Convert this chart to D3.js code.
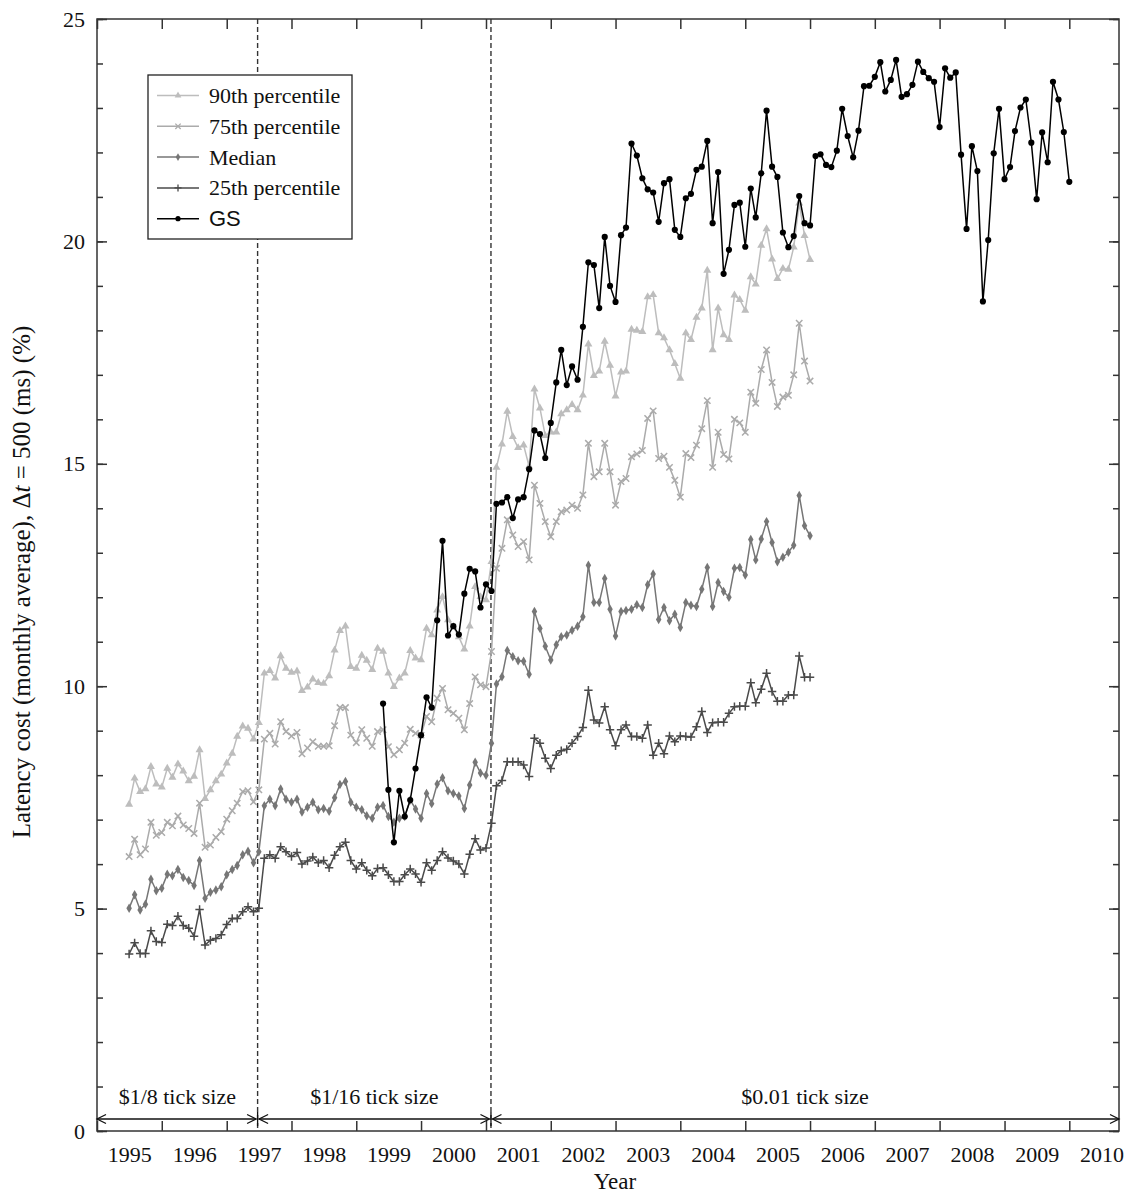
<!DOCTYPE html>
<html>
<head>
<meta charset="utf-8">
<script src="https://cdn.jsdelivr.net/npm/d3@7"></script>
<style>
  body { margin: 0; background: #fff; }
  svg { display: block; font-family: "Liberation Serif", "DejaVu Serif", serif; }
</style>
</head>
<body>
<svg></svg>
<script>
// monthly averages, Jul 1995 .. Jan 2006
var p90 = [7.34, 7.93, 7.63, 7.69, 8.19, 7.80, 7.73, 8.15, 7.95, 8.25, 8.09, 7.87, 7.97, 8.57, 7.47, 7.67,
  7.87, 8.02, 8.27, 8.49, 8.87, 9.10, 9.05, 8.81, 9.18, 10.29, 10.35, 10.18, 10.68, 10.40, 10.31, 10.34,
  9.90, 9.98, 10.16, 10.08, 10.06, 10.23, 10.81, 11.25, 11.35, 10.44, 10.40, 10.69, 10.58, 10.37, 10.85,
  10.78, 10.29, 9.99, 10.18, 10.29, 10.80, 10.63, 10.59, 11.30, 11.15, 11.71, 12.01, 11.49, 11.34, 11.11,
  10.83, 11.35, 12.24, 12.01, 11.94, 12.80,
  14.92, 15.44, 16.18, 15.61, 15.36, 15.42, 14.94, 16.68, 16.25, 15.63, 15.71, 15.71, 16.12, 16.21, 16.33,
  16.21, 16.54, 17.69, 16.98, 17.08, 17.75, 17.21, 16.52, 17.06, 17.08, 18.02, 18.00, 17.97, 18.75, 18.80,
  17.94, 17.83, 17.56, 17.25, 16.92, 17.94, 17.79, 18.29, 18.50,
  19.35, 17.56, 18.50, 17.90, 17.79, 18.79, 18.69, 18.45, 19.20, 19.04, 19.91, 20.28, 19.60, 19.16, 19.39,
  19.37, 19.87, 20.86, 20.13, 19.59];

var p75 = [6.17, 6.56, 6.21, 6.34, 6.94, 6.65, 6.71, 6.94, 6.86, 7.08, 6.88, 6.80, 6.69, 7.37, 6.38, 6.43,
  6.60, 6.73, 7.01, 7.20, 7.37, 7.63, 7.65, 7.40, 7.67, 8.81, 8.94, 8.70, 9.20, 8.98, 8.88, 8.96,
  8.48, 8.61, 8.75, 8.65, 8.65, 8.66, 9.11, 9.52, 9.52, 8.90, 8.73, 9.02, 8.83, 8.65, 8.98,
  9.02, 8.64, 8.46, 8.57, 8.72, 9.03, 8.94, 8.90, 9.32, 9.20, 9.73, 9.95, 9.47, 9.39, 9.28, 9.02, 9.61,
  10.21, 10.03, 9.99, 10.78, 12.65,
  13.10, 13.74, 13.40, 13.14, 13.25, 12.84, 14.52, 14.11, 13.70, 13.36, 13.70, 13.92, 13.96, 14.07, 14.00,
  14.30, 15.46, 14.71, 14.82, 15.46, 14.82, 14.07, 14.60, 14.67, 15.16, 15.22, 15.30, 16.02, 16.19, 15.12,
  15.17, 14.92, 14.63, 14.25, 15.23, 15.14, 15.42,
  15.79, 16.42, 14.92, 15.71, 15.21, 15.11, 16.00, 15.92, 15.71, 16.61, 16.36, 17.12, 17.56, 16.83, 16.29,
  16.50, 16.54, 17.00, 18.16, 17.31, 16.86];

var median = [5.01, 5.31, 4.97, 5.10, 5.66, 5.40, 5.46, 5.77, 5.74, 5.88, 5.70, 5.63, 5.52, 6.08, 5.23, 5.37,
  5.42, 5.49, 5.76, 5.88, 5.97, 6.21, 6.29, 6.03, 6.28, 7.31, 7.46, 7.31, 7.69, 7.46, 7.39, 7.46,
  7.17, 7.28, 7.39, 7.22, 7.25, 7.19, 7.49, 7.79, 7.86, 7.39, 7.28, 7.22, 7.09, 7.03, 7.28, 7.32, 7.07,
  6.94, 7.03, 7.07, 7.44, 7.24, 7.03, 7.59, 7.36, 7.80, 7.94, 7.65, 7.59, 7.53, 7.25, 7.78, 8.29, 8.05,
  8.00, 8.72,
  10.05, 10.21, 10.80, 10.66, 10.57, 10.56, 10.27, 11.68, 11.30, 10.90, 10.59, 10.93, 11.11, 11.15, 11.26,
  11.35, 11.56, 12.72, 11.88, 11.88, 12.42, 11.73, 11.13, 11.68, 11.70, 11.73, 11.83, 11.77, 12.28, 12.52,
  11.50, 11.77, 11.47, 11.62, 11.32, 11.88, 11.82, 11.79, 12.18, 12.67, 11.79, 12.33, 12.13, 12.00, 12.65,
  12.67, 12.50,
  13.30, 12.84, 13.31, 13.70, 13.23, 12.80, 12.90, 13.01, 13.17, 14.29, 13.61, 13.38];

var p25 = [3.98, 4.23, 3.99, 3.99, 4.50, 4.26, 4.24, 4.65, 4.62, 4.83, 4.62, 4.56, 4.38, 4.98, 4.18, 4.29,
  4.33, 4.41, 4.64, 4.78, 4.78, 4.93, 5.04, 4.93, 5.01, 6.13, 6.21, 6.13, 6.39, 6.28, 6.17, 6.26,
  6.00, 6.07, 6.16, 6.03, 6.08, 5.92, 6.20, 6.39, 6.49, 6.08, 5.89, 6.03, 5.86, 5.74, 5.90, 5.92, 5.76,
  5.61, 5.61, 5.76, 5.89, 5.78, 5.59, 6.03, 5.86, 6.08, 6.28, 6.14, 6.07, 6.00, 5.78, 6.22, 6.57, 6.32,
  6.36, 6.92,
  7.76, 7.88, 8.30, 8.30, 8.30, 8.23, 7.97, 8.83, 8.72, 8.38, 8.15, 8.45, 8.55, 8.58, 8.72, 8.87, 9.07,
  9.91, 9.24, 9.17, 9.54, 9.02, 8.66, 9.02, 9.13, 8.87, 8.87, 8.83, 9.13, 8.45, 8.72, 8.48, 8.88, 8.75,
  8.88, 8.87, 8.86, 9.09, 9.43, 8.96, 9.18, 9.19, 9.19, 9.39, 9.54, 9.55, 9.55, 10.08, 9.63, 9.93, 10.29,
  9.88, 9.66, 9.66, 9.80, 9.80, 10.68, 10.20, 10.20];

// GS, Jun 1999 .. Jan 2010
var gs = [9.61, 7.67, 6.49, 7.65, 7.07, 7.44, 8.15, 8.90, 9.75, 9.52, 11.48, 13.27, 11.14, 11.35, 11.16,
  12.08, 12.64, 12.58, 11.77, 12.29, 12.14,
  14.10, 14.13, 14.25, 13.78, 14.20, 14.25, 14.88, 15.75, 15.67, 15.13, 15.92, 16.83, 17.56, 16.77, 17.19,
  16.89, 18.08, 19.53, 19.47, 18.50, 20.10, 19.00, 18.64,
  20.14, 20.31, 22.20, 21.93, 21.42, 21.17, 21.10, 20.44, 21.31, 21.40, 20.26, 20.10, 20.97, 21.07, 21.61,
  21.68, 22.26, 20.41, 21.56, 19.27, 19.81, 20.82, 20.87, 19.88, 21.19, 20.54, 21.53, 22.94, 21.68, 21.45,
  20.20, 19.87, 20.12, 21.02, 20.41, 20.36, 21.92, 21.96, 21.72, 21.67, 22.04, 22.98, 22.37, 21.89, 22.49,
  23.49, 23.50, 23.70, 24.03, 23.37, 23.63, 24.08, 23.25, 23.31, 23.52, 24.04, 23.81, 23.67, 23.59, 22.57,
  23.89, 23.68, 23.80, 21.95, 20.28, 22.14, 21.58,
  18.65, 20.03, 21.98, 22.98, 21.40, 21.67, 22.48, 23.01, 23.19, 22.22, 20.95, 22.45, 21.78, 23.59, 23.19,
  22.46, 21.34];

var years = d3.range(1995, 2011);
var yMajor = [0, 5, 10, 15, 20, 25];
var regimeNames = ['$1/8 tick size', '$1/16 tick size', '$0.01 tick size'];
var regimeBreaks = [new Date(1997, 5, 24), new Date(2001, 0, 29)];

var width = 1125;
var height = 1196;
var plotLeft = 97, plotRight = 1119, plotTop = 19, plotBottom = 1131;
var fontSize = 22;

var pctMonths = d3.timeMonth.range(new Date(1995, 6, 1), new Date(2006, 1, 1));
var gsMonths = d3.timeMonth.range(new Date(1999, 5, 1), new Date(2010, 1, 1));

var xScale = d3.scaleTime()
  .domain([new Date(1995, 0, 1), new Date(2010, 9, 8)])
  .range([plotLeft, plotRight]);

var yScale = d3.scaleLinear()
  .domain([0, 25])
  .range([plotBottom, plotTop]);

var svg = d3.select('svg')
  .attr('width', width)
  .attr('height', height);

var axisColor = '#333';

// markers
function markerPath(kind, s) {
  if (kind === 'triangle') return d3.symbol(d3.symbolTriangle, 28 * s)();
  if (kind === 'diamond') return d3.symbol(d3.symbolDiamond, 26 * s)();
  if (kind === 'circle') return d3.symbol(d3.symbolCircle, 30 * s)();
  if (kind === 'x') { var a = 3.2 * Math.sqrt(s); return `M${-a},${-a}L${a},${a}M${-a},${a}L${a},${-a}`; }
  var b = 4.2 * Math.sqrt(s);
  return `M${-b},0L${b},0M0,${-b}L0,${b}`;
}

var series = [
  {name: '90th percentile', values: p90, months: pctMonths, color: '#bdbdbd', marker: 'triangle'},
  {name: '75th percentile', values: p75, months: pctMonths, color: '#ababab', marker: 'x'},
  {name: 'Median', values: median, months: pctMonths, color: '#767676', marker: 'diamond'},
  {name: '25th percentile', values: p25, months: pctMonths, color: '#4a4a4a', marker: 'plus'},
  {name: 'GS', values: gs, months: gsMonths, color: '#000', marker: 'circle'}
];

// dashed regime lines
svg.selectAll('.regime-line')
  .data(regimeBreaks)
  .enter()
  .append('line')
    .attr('class', 'regime-line')
    .attr('x1', d => xScale(d))
    .attr('x2', d => xScale(d))
    .attr('y1', plotTop)
    .attr('y2', plotBottom)
    .attr('stroke', '#333')
    .attr('stroke-width', 1.4)
    .attr('stroke-dasharray', '5,3');

// series
series.forEach(function(s) {
  var line = d3.line()
    .x((d, i) => xScale(s.months[i]))
    .y(d => yScale(d));
  var g = svg.append('g');
  g.append('path')
    .attr('d', line(s.values))
    .attr('fill', 'none')
    .attr('stroke', s.color)
    .attr('stroke-width', 1.5);
  var filled = s.marker === 'triangle' || s.marker === 'diamond' || s.marker === 'circle';
  g.selectAll('path.m')
    .data(s.values)
    .enter()
    .append('path')
      .attr('class', 'm')
      .attr('transform', (d, i) => `translate(${xScale(s.months[i])},${yScale(d)})`)
      .attr('d', markerPath(s.marker, 1))
      .attr('fill', filled ? s.color : 'none')
      .attr('stroke', filled ? 'none' : s.color)
      .attr('stroke-width', 1.5);
});

// frame
svg.append('rect')
  .attr('x', plotLeft)
  .attr('y', plotTop)
  .attr('width', plotRight - plotLeft)
  .attr('height', plotBottom - plotTop)
  .attr('fill', 'none')
  .attr('stroke', axisColor)
  .attr('stroke-width', 1.5);

// y axis, left and right, major + minor
var yLeft = d3.axisLeft(yScale).tickValues(yMajor).tickSizeInner(-10).tickSizeOuter(0).tickPadding(12);
var yLeftMinor = d3.axisLeft(yScale).tickValues(d3.range(0, 26)).tickSize(-6).tickFormat('');
var yRight = d3.axisRight(yScale).tickValues(yMajor).tickSize(-10).tickFormat('');
var yRightMinor = d3.axisRight(yScale).tickValues(d3.range(0, 26)).tickSize(-6).tickFormat('');

[[yLeftMinor, plotLeft], [yLeft, plotLeft], [yRightMinor, plotRight], [yRight, plotRight]].forEach(function(p) {
  var g = svg.append('g')
    .attr('transform', `translate(${p[1]},0)`)
    .call(p[0]);
  g.select('.domain').remove();
  g.selectAll('line').attr('stroke', axisColor).attr('stroke-width', 1.5);
  g.selectAll('text').attr('font-size', fontSize).attr('font-family', '"Liberation Serif", serif').attr('fill', '#111');
});

// x axis: ticks at year boundaries, labels mid-year
var yearStarts = years.map(d => new Date(d, 0, 1));
var xBottom = d3.axisBottom(xScale).tickValues(yearStarts).tickSize(-10).tickFormat('');
var xTop = d3.axisTop(xScale).tickValues(yearStarts).tickSize(-10).tickFormat('');
var xLabels = d3.axisBottom(xScale)
  .tickValues(years.map(d => new Date(d, 6, 2)))
  .tickSize(0)
  .tickPadding(15)
  .tickFormat(d3.timeFormat('%Y'));

[[xBottom, plotBottom], [xTop, plotTop], [xLabels, plotBottom]].forEach(function(p) {
  var g = svg.append('g')
    .attr('transform', `translate(0,${p[1]})`)
    .call(p[0]);
  g.select('.domain').remove();
  g.selectAll('line').attr('stroke', axisColor).attr('stroke-width', 1.5);
  g.selectAll('text').attr('font-size', fontSize).attr('font-family', '"Liberation Serif", serif').attr('fill', '#111');
});

// regime arrows
var arrowY = 1119;
var bounds = [plotLeft].concat(regimeBreaks.map(d => xScale(d))).concat([plotRight]);
var arrows = svg.append('g').attr('stroke', '#111').attr('stroke-width', 1.3).attr('fill', 'none');
regimeNames.forEach(function(name, i) {
  var x0 = bounds[i] + (i > 0 ? 1.5 : 0);
  var x1 = bounds[i + 1] - (i < 2 ? 1.5 : 0);
  arrows.append('line').attr('x1', x0).attr('x2', x1).attr('y1', arrowY).attr('y2', arrowY);
  arrows.append('path').attr('d', `M${x0 + 9},${arrowY - 4.5}L${x0},${arrowY}L${x0 + 9},${arrowY + 4.5}`);
  arrows.append('path').attr('d', `M${x1 - 9},${arrowY - 4.5}L${x1},${arrowY}L${x1 - 9},${arrowY + 4.5}`);
  svg.append('text')
    .attr('x', (bounds[i] + bounds[i + 1]) / 2)
    .attr('y', 1104)
    .attr('text-anchor', 'middle')
    .attr('font-size', fontSize)
    .attr('fill', '#111')
    .text(name);
});
regimeBreaks.forEach(function(d) {
  arrows.append('line')
    .attr('x1', xScale(d)).attr('x2', xScale(d))
    .attr('y1', arrowY - 7).attr('y2', arrowY + 7);
});

// axis titles
svg.append('text')
  .attr('x', 615)
  .attr('y', 1189)
  .attr('text-anchor', 'middle')
  .attr('font-size', 23)
  .attr('fill', '#111')
  .text('Year');

var yTitle = svg.append('text')
  .attr('transform', 'rotate(-90)')
  .attr('x', -582)
  .attr('y', 30)
  .attr('text-anchor', 'middle')
  .attr('font-size', 25)
  .attr('fill', '#111');
yTitle.append('tspan').text('Latency cost (monthly average), \u0394');
yTitle.append('tspan').attr('font-style', 'italic').text('t');
yTitle.append('tspan').text(' = 500 (ms) (%)');

// legend
var legend = svg.append('g');
legend.append('rect')
  .attr('x', 148)
  .attr('y', 75)
  .attr('width', 204)
  .attr('height', 164)
  .attr('fill', '#fff')
  .attr('stroke', '#222')
  .attr('stroke-width', 1.3);

var item = legend.selectAll('g.item')
  .data(series)
  .enter()
  .append('g')
    .attr('class', 'item')
    .attr('transform', (d, i) => `translate(0,${95.5 + i * 30.8})`);

item.append('line')
  .attr('x1', 157).attr('x2', 199)
  .attr('stroke', d => d.color)
  .attr('stroke-width', 1.5);

item.append('path')
  .attr('transform', 'translate(178,0)')
  .attr('d', d => markerPath(d.marker, 0.7))
  .attr('fill', d => (d.marker === 'x' || d.marker === 'plus') ? 'none' : d.color)
  .attr('stroke', d => (d.marker === 'x' || d.marker === 'plus') ? d.color : 'none')
  .attr('stroke-width', 1.3);

item.append('text')
  .attr('x', 209)
  .attr('y', 7.5)
  .attr('font-size', fontSize)
  .attr('fill', '#111')
  .attr('font-family', d => d.name === 'GS' ? '"Liberation Sans", sans-serif' : '"Liberation Serif", serif')
  .text(d => d.name);
</script>
</body>
</html>
